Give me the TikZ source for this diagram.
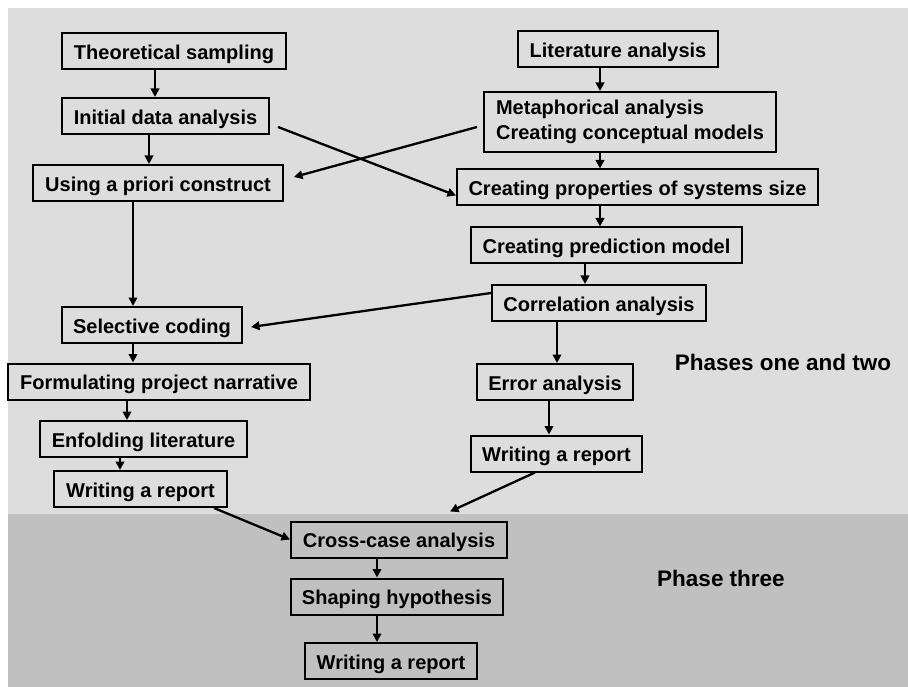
\documentclass[tikz,border=0pt]{standalone}
\usepackage{fontspec}
\setmainfont{Liberation Sans}
\usetikzlibrary{arrows.meta,positioning}

\definecolor{phaseA}{RGB}{221,221,221}
\definecolor{phaseB}{RGB}{192,192,192}

\begin{document}
\begin{tikzpicture}[x=1pt,y=-1pt,>={Triangle[length=8.5pt,width=8.5pt]}]

    \tikzstyle{commonNode}=[font=\fontsize{20}{25}\selectfont\bfseries, line width=2pt, draw=black]
    \tikzstyle{stage}=[commonNode, rectangle, minimum height=36pt, inner xsep=6pt, inner ysep=2pt,
                       text height=18pt, text depth=1.6pt]
    \tikzstyle{flow}=[->, line width=2.3pt]
    \tikzstyle{phase}=[font=\fontsize{22.5}{27}\selectfont\bfseries]

    \useasboundingbox (0,0) rectangle (908,687);

    % Background bands
    \fill[phaseA] (8,8) rectangle (908,514);
    \fill[phaseB] (8,514) rectangle (908,687);

    % Left column
    \node at (174,51.5) [stage, minimum width=224pt] (TS) {Theoretical sampling};
    \node at (165.5,116) [stage, minimum width=207pt] (IDA) {Initial data analysis};
    \node at (158,183) [stage, minimum width=250pt] (APC) {Using a priori construct};
    \node at (152,325) [stage, minimum width=180pt] (SC) {Selective coding};
    \node at (159,381.5) [stage, minimum width=302pt] (FPN) {Formulating project narrative};
    \node at (143.5,439) [stage, minimum width=207pt] (EL) {Enfolding literature};
    \node at (140.5,489) [stage, minimum width=173pt] (WRL) {Writing a report};

    % Right column
    \node at (618,49.5) [stage, minimum width=200pt] (LA) {Literature analysis};
    \node at (630,122) [stage, minimum width=292pt, minimum height=60pt, align=left,
                        text height={}, text depth={}] (MA) {Metaphorical analysis\\Creating conceptual models};
    \node at (637.5,187.5) [stage, minimum width=361pt] (CP) {Creating properties of systems size};
    \node at (606.5,245.5) [stage, minimum width=271pt] (PM) {Creating prediction model};
    \node at (599,303) [stage, minimum width=214pt] (CA) {Correlation analysis};
    \node at (555,382) [stage, minimum width=156pt] (EA) {Error analysis};
    \node at (556.5,453.5) [stage, minimum width=171pt] (WRR) {Writing a report};

    % Phase three
    \node at (399,539.5) [stage, minimum width=216pt] (CC) {Cross-case analysis};
    \node at (397,596.5) [stage, minimum width=212pt] (SH) {Shaping hypothesis};
    \node at (391,661) [stage, minimum width=172pt] (WRB) {Writing a report};

    % Phase labels
    \node at (783,362) [phase] (P12) {Phases one and two};
    \node at (721,578) [phase] (P3) {Phase three};

    % Straight down connectors
    \foreach \from/\to/\col in {TS/IDA/155, IDA/APC/149, APC/SC/133, SC/FPN/133,
                                FPN/EL/127, EL/WRL/120, LA/MA/600, MA/CP/600,
                                CP/PM/600, PM/CA/585, CA/EA/557, EA/WRR/549,
                                CC/SH/377, SH/WRB/377}
    {
        \coordinate (col) at (\col,0);
        \draw[flow] (\from.south -| col) -- (\to.north -| col);
    }

    % Crossing connectors
    \draw[flow] ([shift={(8,11)}]IDA.east) -- ([shift={(0,8)}]CP.west);
    \draw[flow] ([shift={(-6,5)}]MA.west) -- ([shift={(10,-6)}]APC.east);
    \draw[flow] ([shift={(0,-10)}]CA.west) -- ([shift={(8,2)}]SC.east);
    \draw[flow] ([shift={(-14,0)}]WRL.south east) -- (CC.west);
    \draw[flow] ([shift={(-21.5,0)}]WRR.south) -- ([shift={(51,-9)}]CC.north);

\end{tikzpicture}
\end{document}
